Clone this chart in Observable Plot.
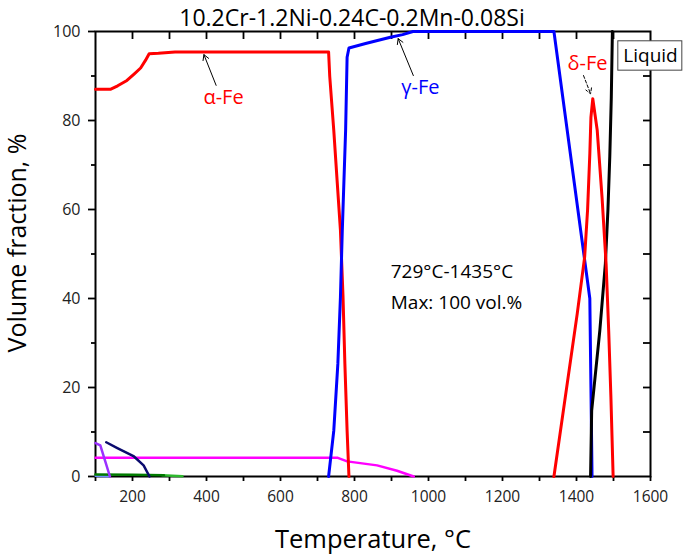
<!DOCTYPE html>
<html>
<head>
<meta charset="utf-8">
<script src="https://cdn.jsdelivr.net/npm/d3@7"></script>
<script src="https://cdn.jsdelivr.net/npm/@observablehq/plot@0.6"></script>
<style>
  html, body { margin: 0; padding: 0; background: #fff; }
  #chart { width: 685px; height: 555px; }
</style>
</head>
<body>
<div id="chart"></div>
<script>
// ---------- data ----------
const title = "10.2Cr-1.2Ni-0.24C-0.2Mn-0.08Si";
const xLabel = "Temperature, °C";
const yLabel = "Volume fraction, %";
const xTickLabels = [200, 400, 600, 800, 1000, 1200, 1400, 1600];
const xMinorTicks = [100, 300, 500, 700, 900, 1100, 1300, 1500];
const yTickLabels = [0, 20, 40, 60, 80, 100];
const yMinorTicks = [10, 30, 50, 70, 90];
const xMin = 100, xMax = 1600, yMin = 0, yMax = 100;

// alpha-Fe (red)
const alphaT = [100, 140, 160, 185, 205, 222, 235, 245, 270, 315, 730, 733, 744, 753, 762, 769, 774, 780, 785];
const alphaV = [87, 87, 87.8, 89, 90.5, 91.8, 93.5, 95, 95.1, 95.4, 95.4, 90, 77.8, 66.5, 55.3, 40.3, 25.3, 10.3, 0];
// gamma-Fe (blue)
const gammaT = [730, 744, 755, 762, 767, 776, 780, 785, 830, 897, 930, 958, 1339, 1436, 1439, 1442];
const gammaV = [0, 10.3, 25.3, 40.3, 55.3, 77.8, 94.2, 96.3, 97.3, 98.7, 99.3, 100, 100, 40, 20, 0];
// delta-Fe (red)
const deltaT = [1339, 1402, 1422, 1430, 1436, 1439, 1444, 1456, 1469, 1480, 1487, 1493, 1499];
const deltaV = [0, 36.6, 49.3, 60, 72.5, 80.7, 84.9, 77.8, 62.8, 47.8, 32.8, 17.8, 0];
// Liquid (black)
const liquidT = [1438, 1441, 1463, 1478, 1485, 1490, 1494, 1497];
const liquidV = [0, 14.8, 32.8, 47.8, 60, 72, 85, 100];
// minor phases
const magentaT = [100, 755, 780, 861, 915, 960];
const magentaV = [4.2, 4.2, 3.4, 2.5, 1.3, 0];
const purpleT = [100, 113, 126, 139];
const purpleV = [7.5, 7.0, 3.5, 0];
const navyT = [129, 159, 204, 230, 246];
const navyV = [7.7, 6.4, 4.5, 2.5, 0];
const darkGreenT = [100, 200, 285];
const darkGreenV = [0.45, 0.4, 0.3];
const lightGreenT = [280, 335];
const lightGreenV = [0.3, 0.05];
const lightBlueT = [100, 135];
const lightBlueV = [0.1, 0];

// annotations
const phaseLabels = [
  {text: "α-Fe", T: 446, V: 85.2, color: "#ff0000"},
  {text: "γ-Fe", T: 978, V: 87.5, color: "#0000ff"},
  {text: "δ-Fe", T: 1430, V: 92.8, color: "#ff0000"}
];
const solidArrows = [
  {T1: 426, V1: 87.9, T2: 393, V2: 94.8},
  {T1: 959, V1: 90.1, T2: 918, V2: 98.4}
];
const dashedArrows = [
  {T1: 1419, V1: 90.1, T2: 1438, V2: 86}
];
const liquidBox = [{T1: 1513, T2: 1686, V1: 91.2, V2: 97.8, cT: 1600, cV: 94.6, text: "Liquid"}];
const infoLines = [
  {text: "729°C-1435°C", T: 898, V: 45.9},
  {text: "Max: 100 vol.%", T: 898, V: 38.9}
];

// ---------- layout ----------
const W = 685, H = 555, mL = 95, mR = 35, mT = 31, mB = 79;
// inward tick lengths (pixels) expressed in data units of each scale
const topTickLen = 8 * (yMax - yMin) / (H - mT - mB);
const rightTickLen = 7 * (xMax - xMin) / (W - mL - mR);

// ---------- build ----------
const toPts = (T, V) => T.map((t, i) => ({T: t, V: V[i]}));
const series = [
  {pts: toPts(magentaT, magentaV), color: "#ff00ff", w: 2.5},
  {pts: toPts(lightBlueT, lightBlueV), color: "#6f8fff", w: 2},
  {pts: toPts(lightGreenT, lightGreenV), color: "#2eb82e", w: 2.5},
  {pts: toPts(darkGreenT, darkGreenV), color: "#007a00", w: 2.5},
  {pts: toPts(purpleT, purpleV), color: "#9b30ff", w: 2.5},
  {pts: toPts(navyT, navyV), color: "#0a0a6e", w: 2.5},
  {pts: toPts(alphaT, alphaV), color: "#ff0000", w: 3},
  {pts: toPts(gammaT, gammaV), color: "#0000ff", w: 3},
  {pts: toPts(liquidT, liquidV), color: "#000000", w: 3},
  {pts: toPts(deltaT, deltaV), color: "#ff0000", w: 3}
];

const font = "'Open Sans', 'Noto Sans', sans-serif";
const blank = () => "";
const plain = d => String(d);
const topTicks = xMinorTicks.concat(xTickLabels).filter(d => d > xMin && d < xMax);
const rightTicks = yMinorTicks.concat(yTickLabels).filter(d => d > yMin && d < yMax);

const chart = Plot.plot({
  width: W,
  height: H,
  marginLeft: mL,
  marginRight: mR,
  marginTop: mT,
  marginBottom: mB,
  style: {fontFamily: font, fontSize: "15px", color: "#000", background: "#fff", overflow: "visible"},
  x: {domain: [xMin, xMax]},
  y: {domain: [yMin, yMax]},
  marks: [
    // bottom axis (outward ticks)
    Plot.axisX(xTickLabels, {anchor: "bottom", tickSize: 5, tickPadding: 9, fontSize: 15.5, tickFormat: plain, label: null, strokeWidth: 1.8, fill: "#222"}),
    Plot.axisX(xMinorTicks, {anchor: "bottom", tickSize: 5, tickFormat: blank, label: null, strokeWidth: 1.8}),
    // left axis (outward ticks)
    Plot.axisY(yTickLabels, {anchor: "left", tickSize: 7, tickPadding: 8, fontSize: 16, tickFormat: plain, label: null, strokeWidth: 1.8, fill: "#222"}),
    Plot.axisY(yMinorTicks, {anchor: "left", tickSize: 4, tickFormat: blank, label: null, strokeWidth: 1.8}),
    // top axis (inward ticks)
    Plot.ruleX(topTicks, {x: d => d, y1: () => yMax, y2: () => yMax - topTickLen, stroke: "#000", strokeWidth: 1.8}),
    // right axis (inward ticks)
    Plot.ruleY(rightTicks, {y: d => d, x1: () => xMax - rightTickLen, x2: () => xMax, stroke: "#000", strokeWidth: 1.8}),
    Plot.frame({stroke: "#000", strokeWidth: 2}),
    // curves
    ...series.map(s => Plot.line(s.pts, {x: "T", y: "V", stroke: s.color, strokeWidth: s.w, curve: "linear"})),
    // arrows
    Plot.arrow(solidArrows, {x1: "T1", y1: "V1", x2: "T2", y2: "V2", stroke: "#000", strokeWidth: 1, headLength: 9}),
    Plot.arrow(dashedArrows, {x1: "T1", y1: "V1", x2: "T2", y2: "V2", stroke: "#000", strokeWidth: 1, headLength: 9, strokeDasharray: "3,2"}),
    // phase labels
    Plot.text(phaseLabels, {x: "T", y: "V", text: "text", fill: "color", fontSize: 20, fontFamily: font}),
    // Liquid box
    Plot.rect(liquidBox, {x1: "T1", x2: "T2", y1: "V1", y2: "V2", fill: "#fff", stroke: "#444", strokeWidth: 1}),
    Plot.text(liquidBox, {x: "cT", y: "cV", text: "text", fill: "#000", fontSize: 19, fontFamily: font}),
    // info text
    Plot.text(infoLines, {x: "T", y: "V", text: "text", textAnchor: "start", fill: "#000", fontSize: 19, fontFamily: font}),
    // title and axis labels
    Plot.text([title], {frameAnchor: "top", dx: -21, dy: -13, text: d => d, textAnchor: "middle", lineAnchor: "middle", fontSize: 23, fill: "#000", fontFamily: font}),
    Plot.text([xLabel], {frameAnchor: "bottom", dy: 63, text: d => d, textAnchor: "middle", lineAnchor: "middle", fontSize: 25.5, fill: "#000", fontFamily: font}),
    Plot.text([yLabel], {frameAnchor: "left", dx: -78, dy: -11, rotate: -90, text: d => d, textAnchor: "middle", lineAnchor: "middle", fontSize: 25, fill: "#000", fontFamily: font})
  ]
});
document.getElementById("chart").appendChild(chart);
</script>
</body>
</html>
